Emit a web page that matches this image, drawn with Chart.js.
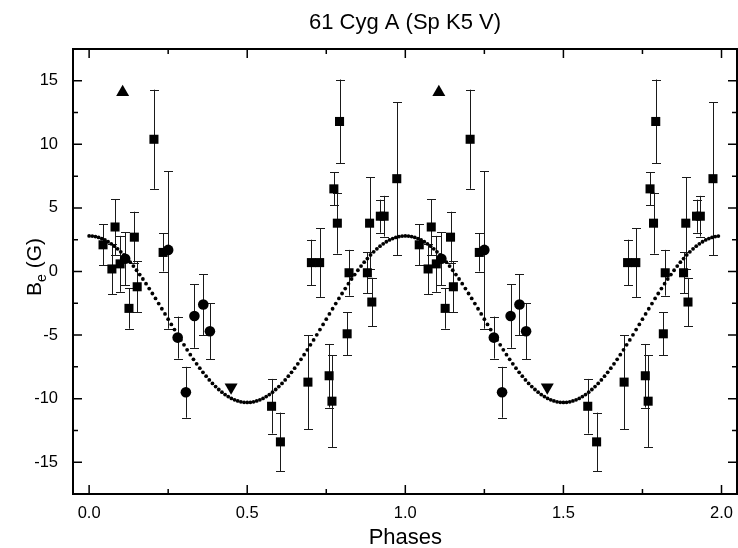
<!DOCTYPE html>
<html>
<head>
<meta charset="utf-8">
<script src="https://cdn.jsdelivr.net/npm/chart.js@4"></script>
<style>
  html, body { margin: 0; padding: 0; background: #fff; }
  #wrap { width: 738px; height: 548px; }
</style>
</head>
<body>
<div id="wrap"><canvas id="chart" width="738" height="548"></canvas></div>
<script>
// measurements over one rotation (phase 0..1), plotted twice like the original
const sqPhase = [0.044, 0.072, 0.082, 0.098, 0.126, 0.143, 0.152, 0.205, 0.234, 0.577, 0.605, 0.692, 0.703, 0.729,
  0.759, 0.768, 0.774, 0.785, 0.792, 0.816, 0.822, 0.880, 0.887, 0.894, 0.921, 0.933, 0.973];
const sqB = [2.1, 0.2, 3.5, 0.6, -2.9, 2.7, -1.2, 10.4, 1.5, -10.6, -13.4, -8.7, 0.7, 0.7,
  -8.2, -10.2, 6.5, 3.8, 11.8, -4.9, -0.1, -0.1, 3.8, -2.4, 4.35, 4.35, 7.3];
const sqErr = [1.6, 2.0, 2.2, 2.2, 1.6, 2.0, 2.0, 3.9, 1.5, 2.15, 2.3, 3.7, 1.8, 2.7,
  2.5, 3.6, 1.3, 2.4, 3.3, 1.7, 1.8, 1.6, 3.6, 1.9, 1.3, 1.6, 6.0];

const circPhase = [0.114, 0.250, 0.280, 0.306, 0.333, 0.361, 0.382];
const circB = [1.0, 1.7, -5.2, -9.5, -3.5, -2.6, -4.7];
const circErr = [2.1, 6.2, 1.65, 2.0, 2.5, 2.4, 2.2];

const upPhase = [0.106];
const upB = [14.1];
const downPhase = [0.449];
const downB = [-9.1];

// fitted curve, sampled every 0.01 in phase
const fitStep = 0.01;
const fitB = [2.80, 2.79, 2.75, 2.68, 2.59, 2.48, 2.34, 2.18, 1.99, 1.78,
  1.55, 1.30, 1.02, 0.73, 0.43, 0.10, -0.24, -0.59, -0.96, -1.34,
  -1.73, -2.12, -2.52, -2.93, -3.34, -3.75, -4.16, -4.57, -4.98, -5.38,
  -5.77, -6.16, -6.54, -6.91, -7.26, -7.60, -7.93, -8.23, -8.53, -8.80,
  -9.05, -9.28, -9.49, -9.68, -9.84, -9.98, -10.09, -10.18, -10.25, -10.29,
  -10.30, -10.29, -10.25, -10.18, -10.09, -9.98, -9.84, -9.68, -9.49, -9.28,
  -9.05, -8.80, -8.53, -8.23, -7.93, -7.60, -7.26, -6.91, -6.54, -6.16,
  -5.77, -5.38, -4.98, -4.57, -4.16, -3.75, -3.34, -2.93, -2.52, -2.12,
  -1.73, -1.34, -0.96, -0.59, -0.24, 0.10, 0.43, 0.73, 1.02, 1.30,
  1.55, 1.78, 1.99, 2.18, 2.34, 2.48, 2.59, 2.68, 2.75, 2.79];

const cycles = [0, 1];
const xMajor = [0, 0.5, 1, 1.5, 2];
const xLabels = ['0.0', '0.5', '1.0', '1.5', '2.0'];
const xMinor = [0.25, 0.75, 1.25, 1.75];
const yMajor = [-15, -10, -5, 0, 5, 10, 15];
const yMinor = [-12.5, -7.5, -2.5, 2.5, 7.5, 12.5];

const FONT = '"Liberation Sans", Arial, Helvetica, sans-serif';

function twice(phases, values) {
  let pts = [];
  cycles.forEach(c => {
    for (let i = 0; i < phases.length; i++) {
      pts.push({ x: phases[i] + c, y: values[i] });
    }
  });
  return pts;
}

function twiceErr(err) {
  let out = [];
  cycles.forEach(() => { out = out.concat(err); });
  return out;
}

function fitPoints() {
  let pts = [];
  cycles.forEach(c => {
    for (let i = 0; i < fitB.length; i++) {
      pts.push({ x: c + i * fitStep, y: fitB[i] });
    }
  });
  return pts;
}

// error bars with small caps, drawn under the markers
const errorBars = {
  id: 'errorBars',
  beforeDatasetsDraw(chart) {
    const c = chart.ctx, xs = chart.scales.x, ys = chart.scales.y;
    c.save();
    c.strokeStyle = '#1a1a1a';
    c.lineWidth = 1;
    chart.data.datasets.forEach(ds => {
      if (!ds.yErr) return;
      ds.data.forEach((p, i) => {
        const px = Math.round(xs.getPixelForValue(p.x)) + 0.5;
        const top = ys.getPixelForValue(p.y + ds.yErr[i]);
        const bot = ys.getPixelForValue(p.y - ds.yErr[i]);
        c.beginPath();
        c.moveTo(px, top); c.lineTo(px, bot);
        c.moveTo(px - 4.5, Math.round(top) + 0.5); c.lineTo(px + 4.5, Math.round(top) + 0.5);
        c.moveTo(px - 4.5, Math.round(bot) + 0.5); c.lineTo(px + 4.5, Math.round(bot) + 0.5);
        c.stroke();
      });
    });
    c.restore();
  }
};

// box frame, inward ticks on all four sides, x tick labels, titles
const frame = {
  id: 'frame',
  afterDraw(chart) {
    const c = chart.ctx, a = chart.chartArea, xs = chart.scales.x, ys = chart.scales.y;
    c.save();
    c.strokeStyle = '#000';
    c.lineWidth = 1.5;
    c.beginPath();
    xMajor.concat(xMinor).forEach(v => {
      const len = xMajor.includes(v) ? 9 : 5;
      const px = xs.getPixelForValue(v);
      c.moveTo(px, a.bottom); c.lineTo(px, a.bottom - len);
      c.moveTo(px, a.top); c.lineTo(px, a.top + len);
    });
    yMajor.concat(yMinor).forEach(v => {
      const len = yMajor.includes(v) ? 9 : 5;
      const py = ys.getPixelForValue(v);
      c.moveTo(a.left, py); c.lineTo(a.left + len, py);
      c.moveTo(a.right, py); c.lineTo(a.right - len, py);
    });
    c.stroke();
    c.lineWidth = 2;
    c.strokeRect(a.left, a.top, a.right - a.left, a.bottom - a.top);

    c.fillStyle = '#000';
    c.textAlign = 'center';
    c.textBaseline = 'alphabetic';
    c.font = '16.5px ' + FONT;
    xMajor.forEach((v, i) => {
      c.fillText(xLabels[i], xs.getPixelForValue(v), a.bottom + 24);
    });

    c.font = '22px ' + FONT;
    c.fillText('61 Cyg A (Sp K5 V)', (a.left + a.right) / 2, 29);
    c.fillText('Phases', xs.getPixelForValue(1), 544);

    // y title with subscript e
    c.translate(41, 267);
    c.rotate(-Math.PI / 2);
    c.font = '21px ' + FONT;
    const wB = c.measureText('B').width;
    c.font = '14px ' + FONT;
    const we = c.measureText('e').width;
    c.font = '21px ' + FONT;
    const wG = c.measureText(' (G)').width;
    let x0 = -(wB + we + wG) / 2;
    c.textAlign = 'left';
    c.fillText('B', x0, 0);
    c.font = '14px ' + FONT;
    c.fillText('e', x0 + wB, 5);
    c.font = '21px ' + FONT;
    c.fillText(' (G)', x0 + wB + we, 0);
    c.restore();
  }
};

const ctx = document.getElementById('chart');

new Chart(ctx, {
  type: 'scatter',
  data: {
    datasets: [
      {
        data: fitPoints(),
        pointStyle: 'circle',
        pointRadius: 1.9,
        backgroundColor: '#000',
        borderWidth: 0
      },
      {
        data: twice(sqPhase, sqB),
        yErr: twiceErr(sqErr),
        pointStyle: 'rect',
        pointRadius: 6.4,
        backgroundColor: '#000',
        borderWidth: 0
      },
      {
        data: twice(circPhase, circB),
        yErr: twiceErr(circErr),
        pointStyle: 'circle',
        pointRadius: 5.3,
        backgroundColor: '#000',
        borderWidth: 0
      },
      {
        data: twice(upPhase, upB),
        pointStyle: 'triangle',
        pointRadius: 7.5,
        backgroundColor: '#000',
        borderWidth: 0
      },
      {
        data: twice(downPhase, downB),
        pointStyle: 'triangle',
        rotation: 180,
        pointRadius: 7.5,
        backgroundColor: '#000',
        borderWidth: 0
      }
    ]
  },
  options: {
    responsive: false,
    animation: false,
    layout: { autoPadding: false, padding: { top: 49, left: 0, right: 1, bottom: 0 } },
    plugins: { legend: { display: false }, tooltip: { enabled: false } },
    scales: {
      x: {
        type: 'linear',
        min: -0.051,
        max: 2.049,
        grid: { display: false, drawTicks: false },
        border: { display: false },
        ticks: { display: false },
        afterFit(scale) { scale.height = 54; }
      },
      y: {
        type: 'linear',
        min: -17.5,
        max: 17.5,
        grid: { display: false, drawTicks: false },
        border: { display: false },
        afterFit(scale) { scale.width = 73; },
        afterBuildTicks(scale) { scale.ticks = yMajor.map(v => ({ value: v })); },
        ticks: {
          padding: 15,
          color: '#000',
          font: { family: FONT, size: 16.5 },
          callback: v => String(v)
        }
      }
    }
  },
  plugins: [errorBars, frame]
});
</script>
</body>
</html>
